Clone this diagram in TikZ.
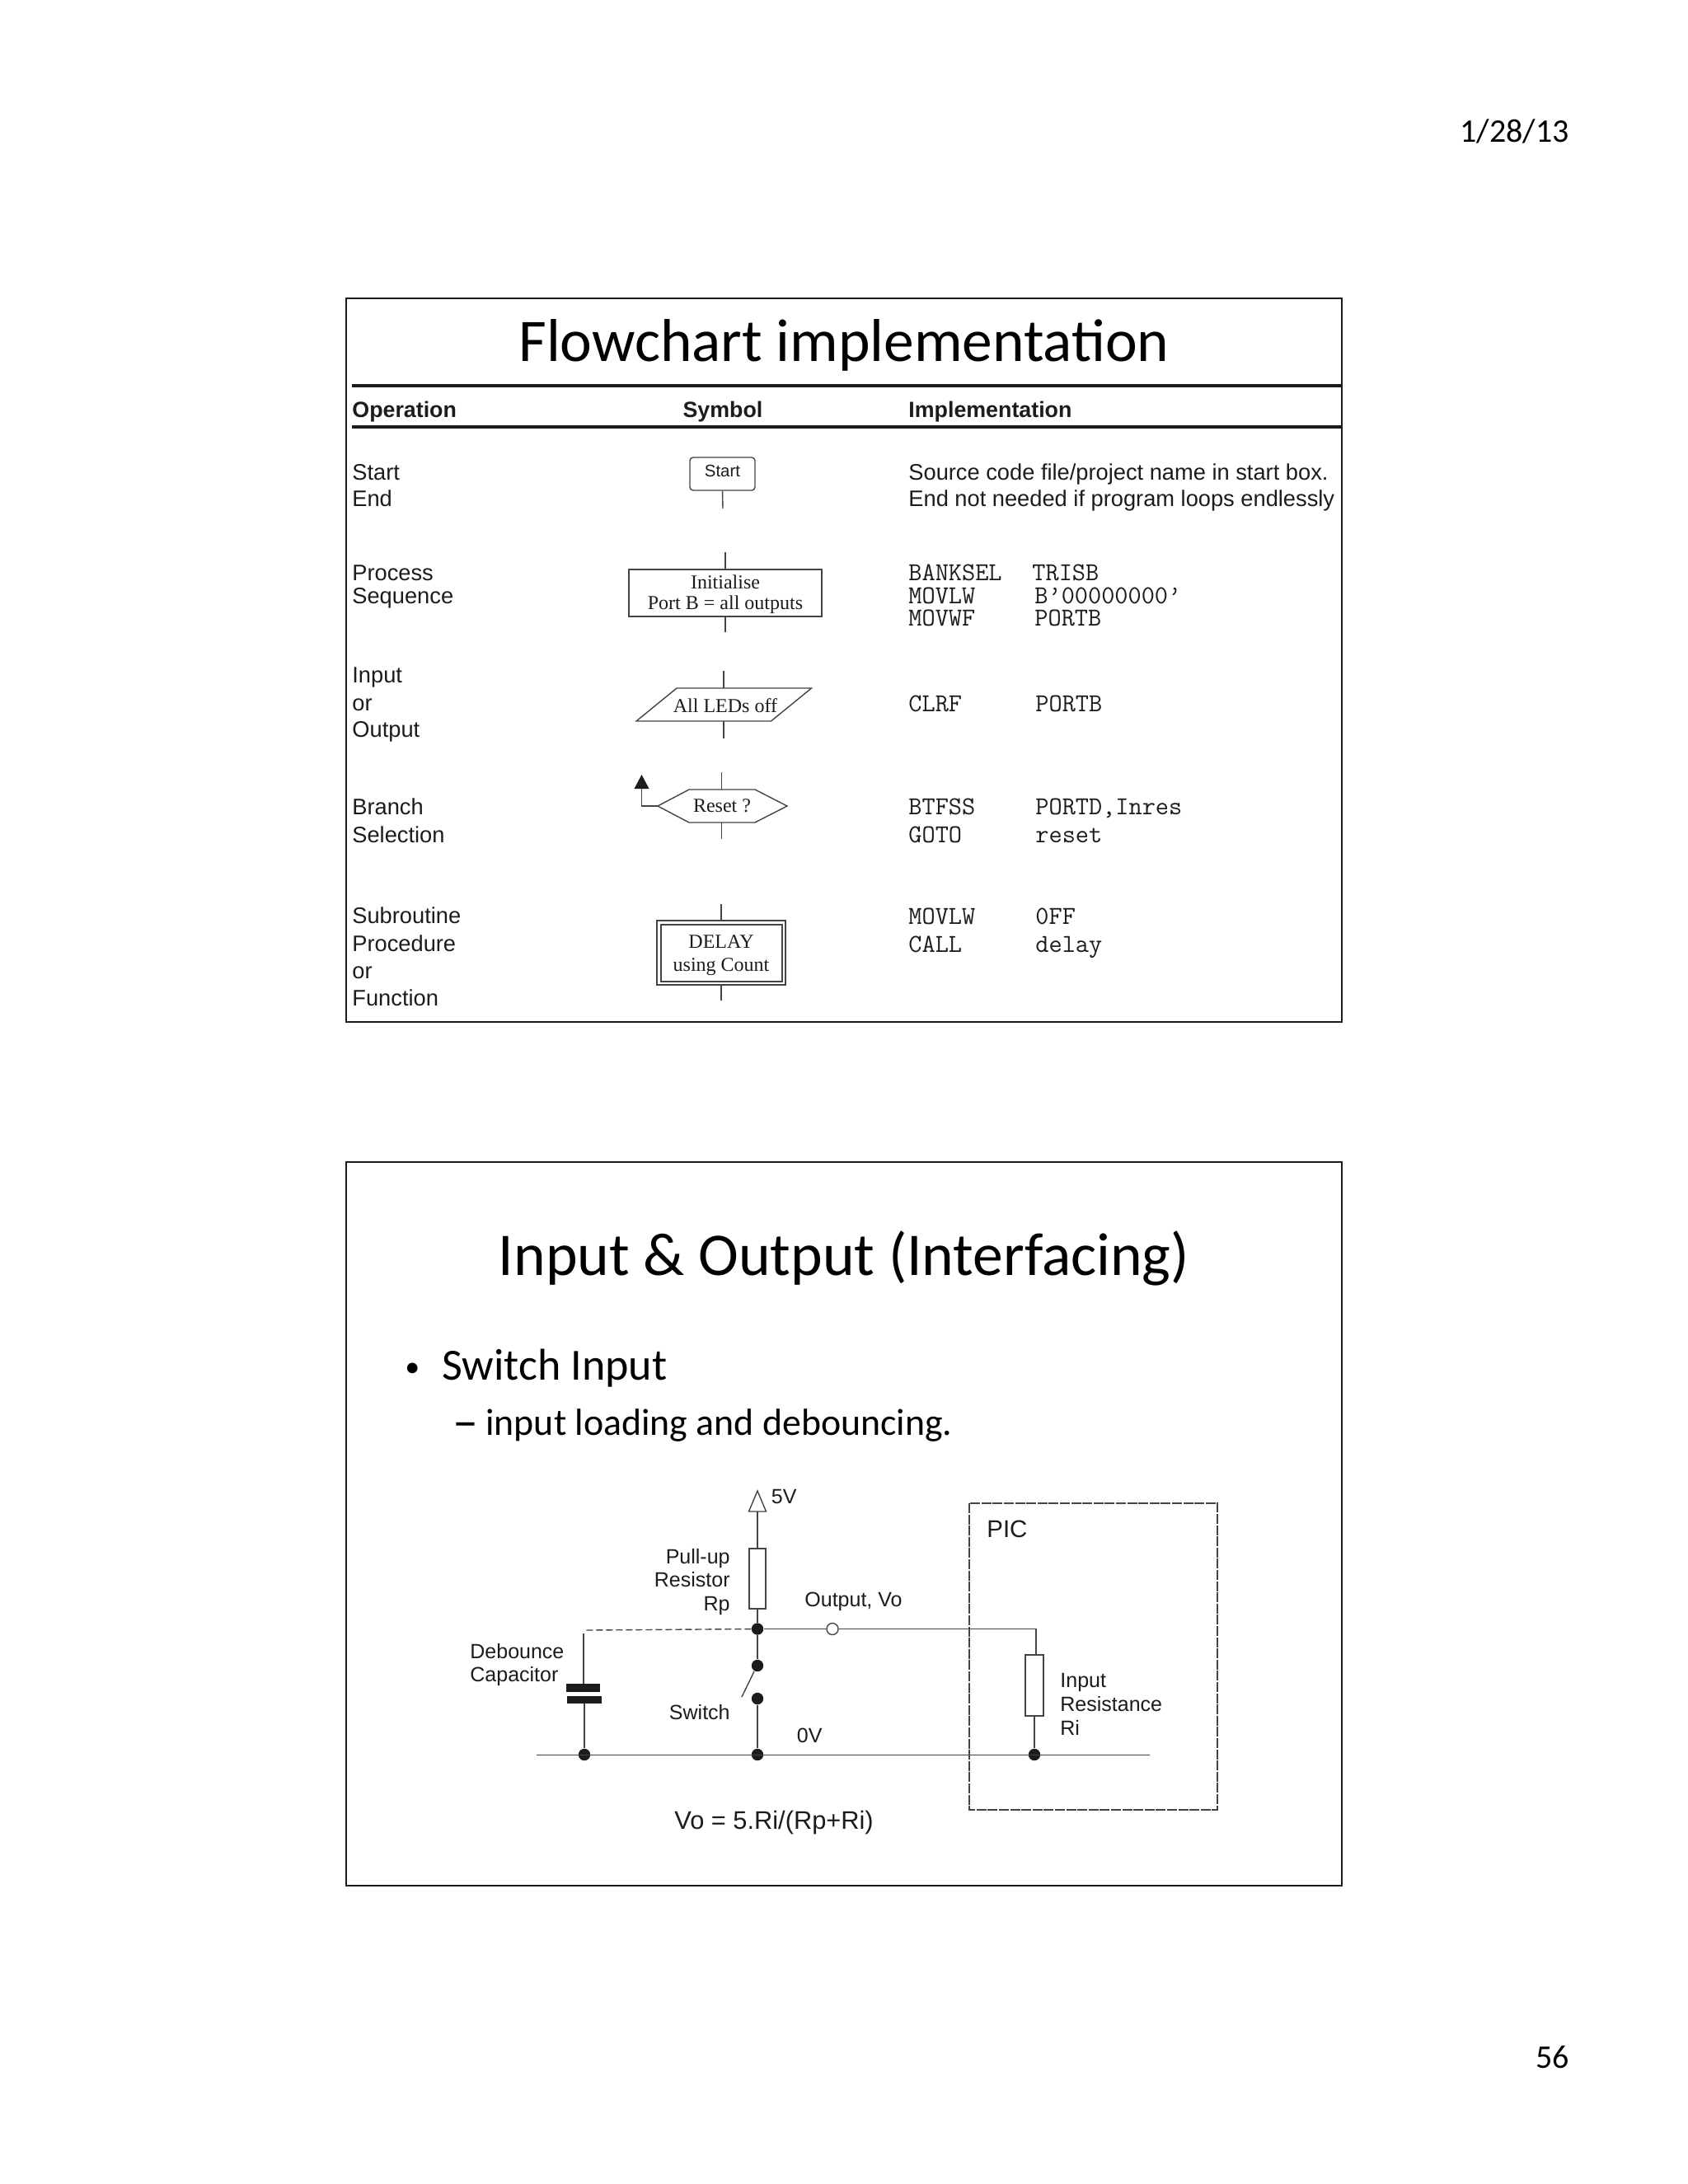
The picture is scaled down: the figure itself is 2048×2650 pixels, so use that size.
\documentclass[tikz,border=0pt]{standalone}
\usepackage{fontspec}
\setmainfont{Liberation Sans}
\newfontfamily\calb{Carlito}
\newfontfamily\tms{Liberation Serif}
\definecolor{ink}{HTML}{1C1C1C}
\definecolor{wire}{HTML}{444444}
\tikzset{
  px/.style={x=0.5pt,y=-0.5pt},
  frame/.style={draw=ink,line width=0.8pt},
  rulehead/.style={draw=ink,line width=1.9pt},
  sym/.style={draw=wire,line width=0.7pt,fill=white},
  lnk/.style={draw=wire,line width=0.7pt},
  dot/.style={circle,fill=ink,inner sep=0pt,minimum size=7.2pt},
  lab/.style={anchor=base west,inner sep=0pt,text=ink,font=\fontsize{13.63}{13.63}\selectfont},
  boldlab/.style={lab,font=\bfseries\fontsize{13.4}{13.4}\selectfont},
  clab/.style={anchor=base west,inner sep=0pt,text=ink,font=\fontsize{12.5}{12.5}\selectfont},
  clabr/.style={clab,anchor=base east},
  code/.style={anchor=base west,inner sep=0pt,text=ink,font=\ttfamily\fontsize{15.7}{15.7}\selectfont},
  serif/.style={anchor=base,inner sep=0pt,text=ink,font=\tms\fontsize{12}{12}\selectfont},
  calt/.style={anchor=base,inner sep=0pt,text=black},
}
\begin{document}
\begin{tikzpicture}[px]
\useasboundingbox (0,0) rectangle (2048,2650);
\fill[white] (0,0) rectangle (2048,2650);
% page
\node[calt,anchor=base east,font=\calb\fontsize{20}{20}\selectfont] (date) at (1904,172.5) {1/28/13};
\node[calt,anchor=base east,font=\calb\fontsize{20}{20}\selectfont] (page) at (1904,2509.5) {56};
% slide 1
\draw[frame] (420,362) rectangle (1628,1240);
\node[calt,font=\calb\fontsize{36.7}{36.7}\selectfont] (t1) at (1024,438.5) {Flowchart implementation};
\draw[rulehead] (427,468) -- (1628,468);
\draw[rulehead] (427,518) -- (1628,518);
\node[boldlab] (hop) at (427,506) {Operation};
\node[boldlab,anchor=base] (hsy) at (877,506) {Symbol};
\node[boldlab] (him) at (1102,506) {Implementation};
\node[lab] (o1) at (427,582) {Start};
\node[lab] (o2) at (427,614) {End};
\node[lab] (o3) at (427,704) {Process};
\node[lab] (o4) at (427,732) {Sequence};
\node[lab] (o5) at (427,828) {Input};
\node[lab] (o6) at (427,862) {or};
\node[lab] (o7) at (427,894) {Output};
\node[lab] (o8) at (427,988) {Branch};
\node[lab] (o9) at (427,1022) {Selection};
\node[lab] (o10) at (427,1120) {Subroutine};
\node[lab] (o11) at (427,1154) {Procedure};
\node[lab] (o12) at (427,1187) {or};
\node[lab] (o13) at (427,1220) {Function};
% symbols
\node[sym,rounded corners=2pt,minimum width=39.5pt,minimum height=20pt,inner sep=0pt] (start) at (876.5,575) {};
\node[anchor=base,inner sep=0pt,text=ink,font=\fontsize{10.2}{10.2}\selectfont] (startt) at (876.5,578) {Start};
\coordinate (startend) at (877,617);
\draw[lnk] (start.south) -- (startend);
\node[sym,minimum width=117pt,minimum height=28.5pt,inner sep=0pt] (init) at (880,719.5) {};
\node[serif] (init1) at (880,714.5) {Initialise};
\node[serif] (init2) at (880,739.5) {Port B = all outputs};
\coordinate (i1) at (880,670); \coordinate (i2) at (880,767);
\draw[lnk] (i1) -- (init.north);
\draw[lnk] (init.south) -- (i2);
\coordinate (pa) at (821,835); \coordinate (pb) at (984.5,835); \coordinate (pc) at (935.5,875); \coordinate (pd) at (772,875);
\draw[sym] (pa) -- (pb) -- (pc) -- (pd) -- cycle;
\node[serif] (leds) at (880,864) {All LEDs off};
\coordinate (p1) at (878,814); \coordinate (p2) at (878,835); \coordinate (p3) at (878,875); \coordinate (p4) at (878,896);
\draw[lnk] (p1) -- (p2); \draw[lnk] (p3) -- (p4);
\coordinate (ha) at (798,978); \coordinate (hb) at (836,958); \coordinate (hc) at (916,958); \coordinate (hd) at (955,978); \coordinate (he) at (916,998); \coordinate (hf) at (836,998);
\draw[sym] (ha) -- (hb) -- (hc) -- (hd) -- (he) -- (hf) -- cycle;
\node[serif] (reset) at (876,985.5) {Reset ?};
\coordinate (h1) at (875.5,937); \coordinate (h2) at (875.5,958); \coordinate (h3) at (875.5,998); \coordinate (h4) at (875.5,1018);
\draw[lnk] (h1) -- (h2); \draw[lnk] (h3) -- (h4);
\coordinate (hk) at (778.5,978); \coordinate (htip) at (778.5,957);
\draw[lnk] (ha) -- (hk) -- (htip);
\fill[ink] (778.5,940) -- (787.5,957) -- (769.5,957) -- cycle;
\node[sym,minimum width=78pt,minimum height=39pt,inner sep=0pt] (delayo) at (875,1156) {};
\node[sym,minimum width=73.5pt,minimum height=34.5pt,inner sep=0pt] (delay) at (875.5,1156.5) {};
\node[serif] (delay1) at (875,1150) {DELAY};
\node[serif] (delay2) at (875,1178) {using Count};
\coordinate (d1) at (875,1097); \coordinate (d2) at (875,1214);
\draw[lnk] (d1) -- (delayo.north); \draw[lnk] (delayo.south) -- (d2);
% implementation
\node[lab] (s1) at (1102,582) {Source code file/project name in start box.};
\node[lab] (s2) at (1102,614) {End not needed if program loops endlessly};
\node[code] (c1) at (1102,704) {BANKSEL};
\node[code] (c2) at (1252,704) {TRISB};
\node[code] (c3) at (1102,732) {MOVLW};
\node[code] (c4) at (1255,732) {B’00000000’};
\node[code] (c5) at (1102,759) {MOVWF};
\node[code] (c6) at (1255,759) {PORTB};
\node[code] (c7) at (1102,863) {CLRF};
\node[code] (c8) at (1256,863) {PORTB};
\node[code] (c9) at (1102,988) {BTFSS};
\node[code] (c10) at (1256,988) {PORTD,Inres};
\node[code] (c11) at (1102,1022) {GOTO};
\node[code] (c12) at (1256,1022) {reset};
\node[code] (c13) at (1102,1121) {MOVLW};
\node[code] (c14) at (1256,1121) {0FF};
\node[code] (c15) at (1102,1155) {CALL};
\node[code] (c16) at (1256,1155) {delay};
% slide 2
\draw[frame] (420,1410) rectangle (1628,2288);
\node[calt,font=\calb\fontsize{36.8}{36.8}\selectfont] (t2) at (1024,1547.5) {Input \& Output (Interfacing)};
\node[calt,anchor=base west,font=\calb\fontsize{18}{18}\selectfont] (b1) at (491,1670) {•};
\node[calt,anchor=base west,font=\calb\fontsize{27}{27}\selectfont] (b1t) at (536,1674) {Switch Input};
\node[calt,anchor=base west,font=\calb\fontsize{31}{31}\selectfont] (b2) at (549,1745) {–};
\node[calt,anchor=base west,font=\calb\fontsize{22.9}{22.9}\selectfont] (b2t) at (589,1741) {input loading and debouncing.};
% circuit
\coordinate (gl) at (651,2129.5);
\coordinate (gr) at (1395,2129.5);
\node[dot] (ng1) at (709,2129) {};
\node[dot] (ng2) at (919,2129) {};
\node[dot] (ng3) at (1255,2129) {};
\node[dot] (nj) at (919,1976.5) {};
\node[dot] (sw1) at (919,2021) {};
\node[dot] (sw2) at (919,2061) {};
\node[circle,draw=wire,fill=white,line width=0.7pt,minimum size=7pt,inner sep=0pt] (vo) at (1010,1976.5) {};
\node[sym,minimum width=10pt,minimum height=36.5pt,inner sep=0pt] (rp) at (919,1915.5) {};
\node[sym,minimum width=11pt,minimum height=37pt,inner sep=0pt] (ri) at (1255,2045) {};
\coordinate (vcc) at (919,1834);
\draw[sym] (919,1809) -- (929.5,1834) -- (908.5,1834) -- cycle;
\draw[lnk] (vcc) -- (rp.north);
\draw[lnk] (rp.south) -- (nj);
\draw[lnk] (nj) -- (sw1);
\draw[lnk] (sw2) -- (ng2);
\coordinate (swa) at (915,2028); \coordinate (swb) at (900,2059);
\draw[lnk] (swa) -- (swb);
\draw[lnk] (gl) -- (gr);
\draw[lnk] (nj) -- (vo);
\coordinate (rk) at (1257,1976.5); \coordinate (rt) at (1257,2008);
\draw[lnk] (vo) -- (rk) -- (rt);
\draw[lnk] (ri.south) -- (ng3);
\coordinate (cd) at (710,1978);
\draw[lnk,dash pattern=on 4pt off 2pt] (nj) -- (cd);
\coordinate (ct) at (708,1982); \coordinate (cb) at (708,2043);
\fill[ink] (687,2043) rectangle (728,2053);
\fill[ink] (688,2058) rectangle (730,2067);
\draw[lnk] (ct) -- (cb);
\coordinate (ce) at (709,2067);
\draw[lnk] (ce) -- (ng1);
\draw[draw=wire,line width=0.6pt,dash pattern=on 6pt off 0.8pt] (1176,1824) rectangle (1477,2196);
\node[clab] (v5) at (935.5,1824) {5V};
\node[clabr] (l1) at (886,1897) {Pull-up};
\node[clabr] (l2) at (886,1925) {Resistor};
\node[clabr] (l3) at (886,1954) {Rp};
\node[clab] (l4) at (976,1949) {Output, Vo};
\node[clab] (l5) at (570,2012) {Debounce};
\node[clab] (l6) at (570,2040) {Capacitor};
\node[clabr] (l7) at (886,2086) {Switch};
\node[clab] (l8) at (966.5,2114) {0V};
\node[clab,font=\fontsize{14.7}{14.7}\selectfont] (l9) at (1197,1865) {PIC};
\node[clab] (l10) at (1286,2047) {Input};
\node[clab] (l11) at (1286,2076) {Resistance};
\node[clab] (l12) at (1286,2105) {Ri};
\node[clab,font=\fontsize{15.4}{15.4}\selectfont] (l13) at (818,2219.5) {Vo = 5.Ri/(Rp+Ri)};
\end{tikzpicture}
\end{document}
